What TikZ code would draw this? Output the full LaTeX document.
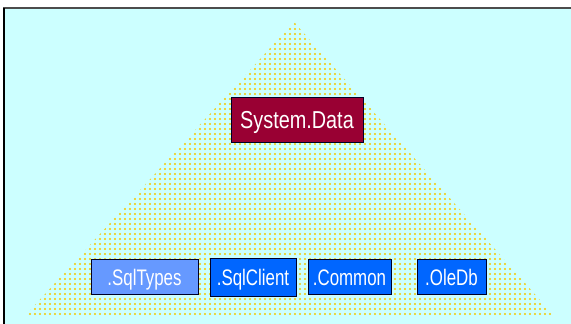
\documentclass[tikz,border=0pt]{standalone}
\usepackage{fontspec}
\setmainfont{Liberation Sans}
\newfontfamily\boxfont[FakeStretch=0.75]{Liberation Sans}
\newfontfamily\topfont[FakeStretch=0.81]{Liberation Sans}
\usepackage{xcolor}
\definecolor{bgcyan}{HTML}{CCFFFF}
\definecolor{dotgold}{HTML}{F5C800}
\definecolor{datared}{HTML}{990033}
\definecolor{nsblue}{HTML}{0066FF}
\definecolor{typeblue}{HTML}{6699FF}
\usepackage{tikz}
\usetikzlibrary{positioning, patterns.meta}

\begin{document}
\begin{tikzpicture}[x=1pt, y=-1pt,
  nsbox/.style={draw=black!85!blue, line width=1pt, text=white, inner sep=0pt,
    text height=16pt, text depth=0pt,
    font=\boxfont\fontsize{22.5}{22.5}\selectfont}]
  \useasboundingbox (0,0) rectangle (571,324);

  % 背景
  \fill[bgcyan] (4,8) rectangle (571,324);
  \draw[black!70, line width=2pt] (3,8) -- (571,8);
  \draw[black, line width=1.5pt] (4,8) -- (4,324);

  % 金字塔
  \fill[pattern={Dots[distance=5pt, radius=1.15pt]}, pattern color=dotgold]
    (294,22) -- (555,317) -- (24,317) -- cycle;

  % 顶层
  \node[nsbox, fill=datared, minimum width=132pt, minimum height=45pt, text height=17.5pt,
    font=\topfont\fontsize{24.5}{24.5}\selectfont] (sysdata) at (297,119.5) {System.Data};

  % 命名空间
  \foreach \n/\x/\w/\h/\c/\t in {
    sqltypes/144.5/107/35/typeblue/.SqlTypes,
    sqlclient/253/86/38/nsblue/.SqlClient,
    common/349.5/83/35/nsblue/.Common,
    oledb/451.5/69/35/nsblue/.OleDb
  } {
    \node[nsbox, fill=\c, minimum width=\w pt, minimum height=\h pt] (\n) at (\x,277) {\t};
  }

\end{tikzpicture}
\end{document}
